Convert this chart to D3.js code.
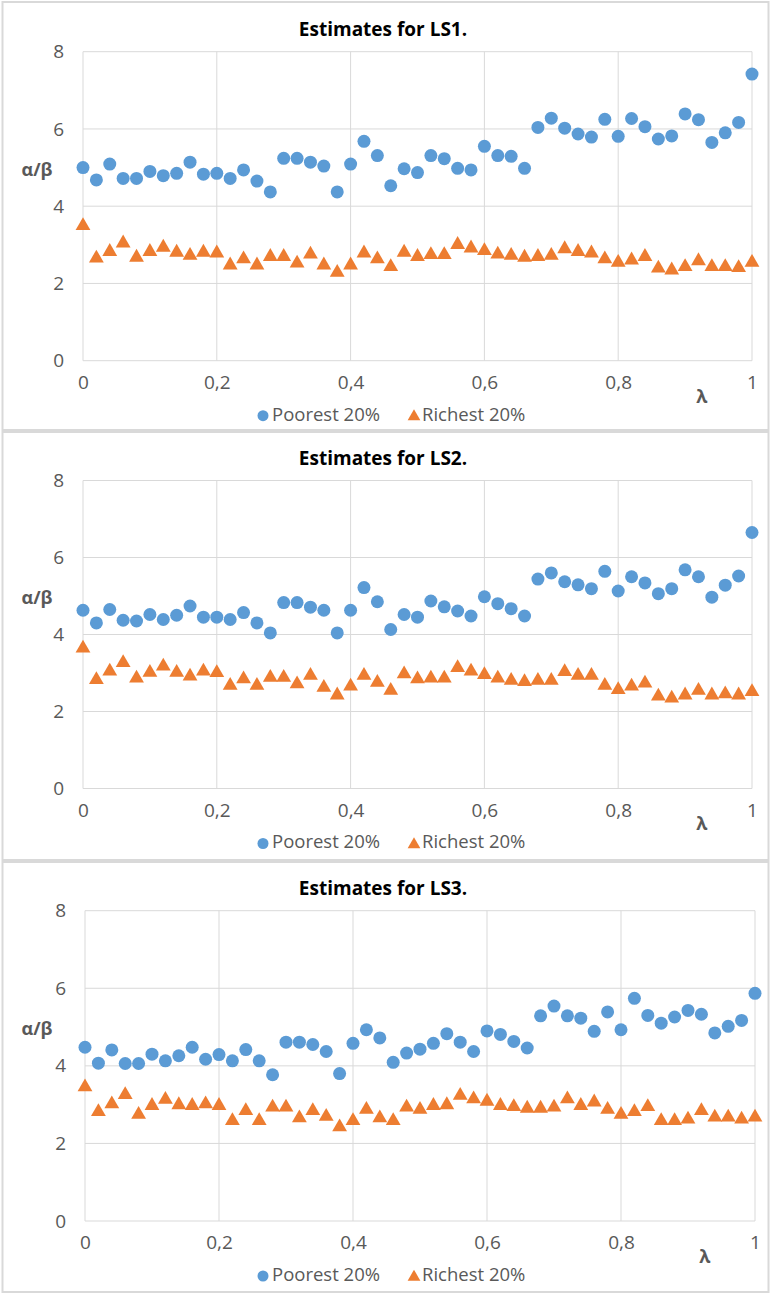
<!DOCTYPE html>
<html>
<head>
<meta charset="utf-8">
<script src="https://cdn.jsdelivr.net/npm/d3@7"></script>
<style>
  body { margin: 0; background: #fff; }
  svg { display: block; font-family: "Open Sans", sans-serif; }
</style>
</head>
<body>
<div id="chart"></div>
<script>
// lambda values (x axis)
const lambdas = [0, 0.02, 0.04, 0.06, 0.08, 0.1, 0.12, 0.14, 0.16, 0.18,
  0.2, 0.22, 0.24, 0.26, 0.28, 0.3, 0.32, 0.34, 0.36, 0.38,
  0.4, 0.42, 0.44, 0.46, 0.48, 0.5, 0.52, 0.54, 0.56, 0.58,
  0.6, 0.62, 0.64, 0.66, 0.68, 0.7, 0.72, 0.74, 0.76, 0.78,
  0.8, 0.82, 0.84, 0.86, 0.88, 0.9, 0.92, 0.94, 0.96, 0.98, 1];

const xTicks = [0, 0.2, 0.4, 0.6, 0.8, 1];
const xTickLabels = ['0', '0,2', '0,4', '0,6', '0,8', '1'];
const yTicks = [0, 2, 4, 6, 8];

const titles = ['Estimates for LS1.', 'Estimates for LS2.', 'Estimates for LS3.'];
const seriesNames = ['Poorest 20%', 'Richest 20%'];

const ls1Poorest = [5.0, 4.68, 5.09, 4.72, 4.72, 4.90, 4.79, 4.85, 5.14, 4.83,
  4.85, 4.72, 4.94, 4.65, 4.37, 5.24, 5.24, 5.14, 5.04, 4.37,
  5.09, 5.68, 5.31, 4.53, 4.97, 4.87, 5.31, 5.23, 4.98, 4.94,
  5.55, 5.31, 5.29, 4.98, 6.04, 6.28, 6.02, 5.87, 5.79, 6.25,
  5.81, 6.27, 6.06, 5.74, 5.82, 6.39, 6.24, 5.65, 5.90, 6.17, 7.42];
const ls1Richest = [3.52, 2.68, 2.85, 3.07, 2.70, 2.85, 2.96, 2.83, 2.75, 2.83,
  2.81, 2.50, 2.66, 2.50, 2.72, 2.72, 2.55, 2.78, 2.50, 2.31,
  2.50, 2.81, 2.66, 2.46, 2.83, 2.72, 2.77, 2.77, 3.03, 2.94,
  2.87, 2.78, 2.75, 2.70, 2.72, 2.75, 2.92, 2.85, 2.81, 2.66,
  2.57, 2.63, 2.72, 2.42, 2.37, 2.46, 2.61, 2.46, 2.46, 2.43, 2.57];

const ls2Poorest = [4.63, 4.30, 4.65, 4.37, 4.35, 4.52, 4.39, 4.50, 4.74, 4.45,
  4.45, 4.39, 4.57, 4.30, 4.04, 4.83, 4.83, 4.71, 4.63, 4.04,
  4.63, 5.22, 4.85, 4.13, 4.52, 4.45, 4.87, 4.72, 4.61, 4.48,
  4.98, 4.80, 4.67, 4.48, 5.44, 5.60, 5.37, 5.29, 5.19, 5.64,
  5.13, 5.50, 5.34, 5.06, 5.19, 5.68, 5.50, 4.97, 5.28, 5.52, 6.65];
const ls2Richest = [3.67, 2.85, 3.07, 3.29, 2.89, 3.04, 3.20, 3.04, 2.94, 3.07,
  3.03, 2.70, 2.87, 2.70, 2.91, 2.91, 2.74, 2.96, 2.65, 2.45,
  2.68, 2.96, 2.78, 2.57, 3.00, 2.87, 2.89, 2.89, 3.16, 3.07,
  2.98, 2.89, 2.83, 2.80, 2.83, 2.83, 3.06, 2.96, 2.96, 2.70,
  2.59, 2.68, 2.76, 2.42, 2.37, 2.45, 2.57, 2.45, 2.48, 2.45, 2.54];

const ls3Poorest = [4.48, 4.07, 4.41, 4.06, 4.06, 4.30, 4.13, 4.26, 4.48, 4.17,
  4.29, 4.13, 4.42, 4.13, 3.77, 4.61, 4.61, 4.55, 4.37, 3.80,
  4.58, 4.93, 4.72, 4.09, 4.33, 4.43, 4.58, 4.83, 4.61, 4.37,
  4.90, 4.81, 4.63, 4.46, 5.29, 5.54, 5.29, 5.23, 4.89, 5.39,
  4.93, 5.74, 5.30, 5.10, 5.26, 5.43, 5.33, 4.85, 5.02, 5.17, 5.87];
const ls3Richest = [3.48, 2.84, 3.04, 3.28, 2.77, 3.00, 3.16, 3.02, 3.00, 3.04,
  3.00, 2.61, 2.87, 2.61, 2.96, 2.96, 2.68, 2.87, 2.72, 2.45,
  2.61, 2.90, 2.68, 2.61, 2.96, 2.90, 3.00, 3.02, 3.26, 3.17,
  3.11, 3.00, 2.97, 2.93, 2.93, 2.96, 3.17, 3.00, 3.09, 2.90,
  2.77, 2.84, 2.97, 2.61, 2.61, 2.65, 2.87, 2.70, 2.70, 2.65, 2.70];

const poorest = [ls1Poorest, ls2Poorest, ls3Poorest];
const richest = [ls1Richest, ls2Richest, ls3Richest];

const blue = '#5b9bd5';
const orange = '#ed7d31';
const gridColor = '#d9d9d9';
const textColor = '#595959';

const width = 772, height = 1294;

// panel boxes and plot areas
const panels = [
  { top: 2, bottom: 430, plotTop: 51.7, plotBottom: 360.7, left: 83, right: 752 },
  { top: 432, bottom: 860, plotTop: 480.5, plotBottom: 788.5, left: 83, right: 752 },
  { top: 862, bottom: 1292, plotTop: 910.7, plotBottom: 1221, left: 85, right: 755 }
];

const svg = d3.select('#chart')
  .append('svg')
  .attr('width', width)
  .attr('height', height);

const triangle = d3.symbol().type(d3.symbolTriangle).size(95);

panels.forEach((p, k) => {
  const g = svg.append('g');

  // panel frame
  g.append('rect')
    .attr('x', 2.5)
    .attr('y', p.top)
    .attr('width', 766)
    .attr('height', p.bottom - p.top)
    .attr('fill', '#fff')
    .attr('stroke', gridColor)
    .attr('stroke-width', 2);

  const x = d3.scaleLinear().domain([0, 1]).range([p.left, p.right]);
  const y = d3.scaleLinear().domain([0, 8]).range([p.plotBottom, p.plotTop]);

  // gridlines
  g.selectAll('.hgrid')
    .data(yTicks)
    .enter().append('line')
    .attr('x1', x(0)).attr('x2', x(1))
    .attr('y1', d => y(d)).attr('y2', d => y(d))
    .attr('stroke', gridColor)
    .attr('stroke-width', 1);

  g.selectAll('.vgrid')
    .data(xTicks)
    .enter().append('line')
    .attr('x1', d => x(d)).attr('x2', d => x(d))
    .attr('y1', y(0)).attr('y2', y(8))
    .attr('stroke', gridColor)
    .attr('stroke-width', 1);

  // y axis labels
  const yAxis = d3.axisLeft(y).tickValues(yTicks).tickSize(0).tickPadding(19);
  const ya = g.append('g')
    .attr('transform', `translate(${x(0)},0)`)
    .call(yAxis);
  ya.select('.domain').remove();
  ya.selectAll('text')
    .attr('fill', textColor)
    .style('font-size', '19px')
    .style('font-family', '"Open Sans", sans-serif');

  // x axis labels
  const xAxis = d3.axisBottom(x).tickValues(xTicks)
    .tickFormat((d, i) => xTickLabels[i])
    .tickSize(0).tickPadding(15);
  const xa = g.append('g')
    .attr('transform', `translate(0,${y(0)})`)
    .call(xAxis);
  xa.select('.domain').remove();
  xa.selectAll('text')
    .attr('fill', textColor)
    .style('font-size', '19px')
    .style('font-family', '"Open Sans", sans-serif');

  // title
  g.append('text')
    .attr('x', 383)
    .attr('y', p.plotTop - 21)
    .attr('text-anchor', 'middle')
    .attr('dominant-baseline', 'middle')
    .style('font-size', '19px')
    .style('font-weight', 'bold')
    .attr('fill', '#000')
    .text(titles[k]);

  // axis titles
  g.append('text')
    .attr('x', 37)
    .attr('y', p.plotTop + 119)
    .attr('text-anchor', 'middle')
    .attr('dominant-baseline', 'middle')
    .style('font-size', '18px')
    .style('font-weight', 'bold')
    .attr('fill', textColor)
    .text('α/β');

  g.append('text')
    .attr('x', x(0.925))
    .attr('y', y(0) + 37)
    .attr('text-anchor', 'middle')
    .attr('dominant-baseline', 'middle')
    .style('font-size', '18px')
    .style('font-weight', 'bold')
    .attr('fill', textColor)
    .text('λ');

  // points
  g.selectAll('.poor')
    .data(poorest[k])
    .enter().append('circle')
    .attr('cx', (d, i) => x(lambdas[i]))
    .attr('cy', d => y(d))
    .attr('r', 6.5)
    .attr('fill', blue);

  g.selectAll('.rich')
    .data(richest[k])
    .enter().append('path')
    .attr('d', triangle)
    .attr('transform', (d, i) => `translate(${x(lambdas[i])},${y(d) + 1})`)
    .attr('fill', orange);

  // legend
  const ly = y(0) + 55;
  const leg = g.append('g');
  leg.append('circle')
    .attr('cx', 263).attr('cy', ly).attr('r', 5.5)
    .attr('fill', blue);
  leg.append('text')
    .attr('x', 272).attr('y', ly)
    .attr('dominant-baseline', 'middle')
    .style('font-size', '18.5px')
    .attr('fill', textColor)
    .text(seriesNames[0]);
  leg.append('path')
    .attr('d', d3.symbol().type(d3.symbolTriangle).size(70))
    .attr('transform', `translate(414,${ly + 1})`)
    .attr('fill', orange);
  leg.append('text')
    .attr('x', 422).attr('y', ly)
    .attr('dominant-baseline', 'middle')
    .style('font-size', '18.5px')
    .attr('fill', textColor)
    .text(seriesNames[1]);
});
</script>
</body>
</html>
